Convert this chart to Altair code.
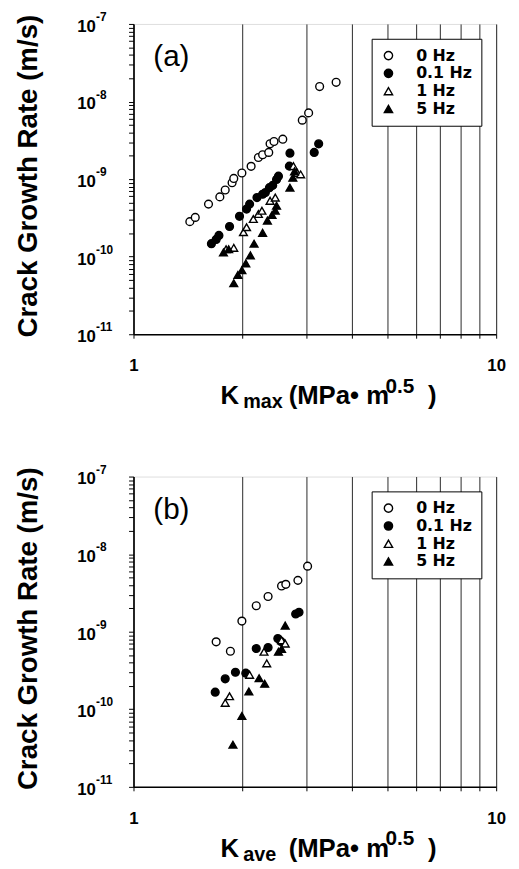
import altair as alt
import pandas as pd

SERIES = ["0 Hz", "0.1 Hz", "1 Hz", "5 Hz"]
SHAPES = ["circle", "circle", "triangle-up", "triangle-up"]
FILLS = ["white", "black", "white", "black"]

# ---- panel (a): K max ----
a0_k = [1.43, 1.48, 1.61, 1.73, 1.79, 1.87, 1.89, 1.99, 2.11, 2.21, 2.27, 2.36, 2.38, 2.44, 2.58, 2.92, 3.04, 3.26, 3.62]
a0_v = [2.83e-10, 3.21e-10, 4.76e-10, 5.9e-10, 7.24e-10, 8.98e-10, 1.02e-9, 1.2e-9, 1.46e-9, 1.9e-9, 2.06e-9, 2.21e-9, 2.85e-9, 3.05e-9, 3.27e-9, 5.75e-9, 7.14e-9, 1.56e-8, 1.77e-8]
a1_k = [1.64, 1.69, 1.72, 1.84, 1.96, 2.05, 2.09, 2.19, 2.27, 2.31, 2.37, 2.42, 2.48, 2.51, 2.69, 2.70, 3.15, 3.24]
a1_v = [1.47e-10, 1.67e-10, 1.88e-10, 2.45e-10, 3.31e-10, 4.11e-10, 4.76e-10, 5.78e-10, 6.38e-10, 6.7e-10, 7.76e-10, 8.3e-10, 9.9e-10, 1.09e-9, 1.47e-9, 2.16e-9, 2.21e-9, 2.85e-9]
a2_k = [1.80, 1.89, 2.01, 2.05, 2.14, 2.21, 2.26, 2.38, 2.46, 2.76, 2.83, 2.89]
a2_v = [1.25e-10, 1.30e-10, 2.07e-10, 2.4e-10, 3.06e-10, 3.55e-10, 3.91e-10, 5.25e-10, 5.78e-10, 1.47e-9, 1.2e-9, 1.15e-9]
a3_k = [1.77, 1.83, 1.89, 1.94, 1.99, 2.04, 2.10, 2.15, 2.27, 2.34, 2.41, 2.46, 2.48, 2.70, 2.75, 2.78]
a3_v = [1.13e-10, 1.25e-10, 4.55e-11, 5.8e-11, 6.7e-11, 8.2e-11, 1.04e-10, 1.47e-10, 2.03e-10, 2.92e-10, 3.44e-10, 3.91e-10, 4.53e-10, 7.76e-10, 1.04e-9, 1.26e-9]

# ---- panel (b): K ave ----
b0_k = [1.69, 1.85, 1.99, 2.18, 2.35, 2.56, 2.63, 2.84, 3.02]
b0_v = [7.4e-10, 5.6e-10, 1.37e-9, 2.16e-9, 2.84e-9, 3.89e-9, 4.08e-9, 4.59e-9, 7.0e-9]
b1_k = [1.68, 1.79, 1.91, 2.04, 2.18, 2.35, 2.50, 2.55, 2.80, 2.86]
b1_v = [1.66e-10, 2.47e-10, 3.0e-10, 2.92e-10, 6.07e-10, 6.25e-10, 8.15e-10, 7.5e-10, 1.69e-9, 1.78e-9]
b2_k = [1.79, 1.84, 2.09, 2.29, 2.33, 2.56, 2.62]
b2_v = [1.21e-10, 1.47e-10, 2.78e-10, 5.51e-10, 3.91e-10, 7.76e-10, 7.03e-10]
b3_k = [1.88, 1.99, 2.08, 2.22, 2.30, 2.51, 2.56, 2.62]
b3_v = [3.5e-11, 8.2e-11, 1.7e-10, 2.52e-10, 2.13e-10, 5.51e-10, 6.0e-10, 1.2e-9]

DEC_VALS = [1e-7, 1e-8, 1e-9, 1e-10, 1e-11]
DEC_EXPS = ["-7", "-8", "-9", "-10", "-11"]
X_TICKS = [1, 2, 3, 4, 5, 6, 7, 8, 9, 10]
Y_TICKS = [m * 10.0 ** e for e in range(-11, -7) for m in range(1, 10)] + [1e-7]
Y_TITLE = "Crack Growth Rate (m/s)"

FONT = "Liberation Sans"
WIDE = "DejaVu Sans"
W, H = 367, 314


def frame(ks, vs):
    rows = []
    for name, k, v in zip(SERIES, ks, vs):
        for kk, vv in zip(k, v):
            rows.append({"K": kk, "V": vv, "freq": name})
    return pd.DataFrame(rows)


def one(x, y, t, size, weight="bold", align="left", baseline="alphabetic", angle=0):
    return alt.Chart(pd.DataFrame({"t": [t]})).mark_text(
        font=FONT, fontSize=size, fontWeight=weight, align=align,
        baseline=baseline, color="black", angle=angle
    ).encode(x=alt.value(x), y=alt.value(y), text="t:N")


def panel(df, tag, sub):
    xs = alt.Scale(type="log", domain=[1, 10], nice=False)
    ys = alt.Scale(type="log", domain=[1e-11, 1e-7], nice=False)
    pts = alt.Chart(df).mark_point(
        filled=True, stroke="black", strokeWidth=1.4, size=62, opacity=1
    ).encode(
        x=alt.X("K:Q", scale=xs, axis=alt.Axis(
            values=X_TICKS, title=None, grid=True, gridColor="#111", gridWidth=0.9,
            labelExpr="datum.value == 1 || datum.value == 10 ? datum.label : ''",
            format="~g", labelFont=FONT, labelFontSize=17, labelFontWeight="bold",
            labelColor="black", labelPadding=20, tickSize=4, tickColor="black",
            domainColor="black", domainWidth=1.5, labelFlush=False)),
        y=alt.Y("V:Q", scale=ys, axis=alt.Axis(
            values=Y_TICKS, labels=False, grid=False, tickSize=5, tickColor="black",
            domainColor="black", domainWidth=1.5, title=None)),
        shape=alt.Shape("freq:N", scale=alt.Scale(domain=SERIES, range=SHAPES),
                        legend=alt.Legend(title=None)),
        fill=alt.Fill("freq:N", scale=alt.Scale(domain=SERIES, range=FILLS),
                      legend=alt.Legend(
                          title=None, orient="none", legendX=241, legendY=15,
                          strokeColor="black", padding=9, labelFont=WIDE,
                          labelFontSize=16, labelFontWeight="bold", labelColor="black",
                          symbolSize=70, symbolStrokeColor="black", symbolStrokeWidth=1.4,
                          labelOffset=20, rowPadding=2, fillColor="white")),
    )
    lab_df = pd.DataFrame({"V": DEC_VALS, "e": DEC_EXPS})
    tens = alt.Chart(lab_df).mark_text(
        font=FONT, fontSize=17, fontWeight="bold", align="right", baseline="middle",
        dy=3, color="black"
    ).encode(x=alt.value(-38), y=alt.Y("V:Q", scale=ys), text=alt.value("10"))
    exps = alt.Chart(lab_df).mark_text(
        font=FONT, fontSize=12, fontWeight="bold", align="left", baseline="middle",
        dy=-7, color="black"
    ).encode(x=alt.value(-38), y=alt.Y("V:Q", scale=ys), text="e:N")
    layers = [
        pts, tens, exps,
        one(-106, H / 2 - 3, Y_TITLE, 28, align="center", baseline="middle", angle=270),
        one(20, 34, tag, 30, weight="normal", baseline="middle"),
        one(88, 385, "K", 26),
        one(111, 389, sub, 20),
        one(157, 385, "(MPa\u2022 m", 26),
        one(255, 373, "0.5", 21),
        one(298, 385, ")", 26),
    ]
    return alt.layer(*layers).properties(width=W, height=H).resolve_scale(
        shape="independent", fill="independent")


dfa = frame([a0_k, a1_k, a2_k, a3_k], [a0_v, a1_v, a2_v, a3_v])
dfb = frame([b0_k, b1_k, b2_k, b3_k], [b0_v, b1_v, b2_v, b3_v])

chart = alt.vconcat(
    panel(dfa, "(a)", "max"),
    panel(dfb, "(b)", "ave"),
    spacing=50,
).resolve_scale(shape="independent", fill="independent").resolve_legend(
    shape="independent", fill="independent"
).properties(
    padding={"left": 6, "top": -3, "right": 5, "bottom": 0}
).configure_view(stroke="black", strokeWidth=1.5).configure(background="white")

chart.save("out.html", embed_options={"renderer": "svg", "actions": False})
